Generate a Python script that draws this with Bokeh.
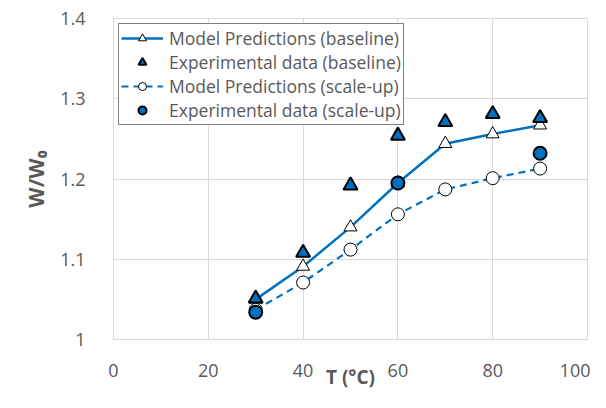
from bokeh.plotting import figure
from bokeh.models import Range1d, Legend, LegendItem, FixedTicker
from bokeh.embed import file_html
from bokeh.resources import INLINE

# data
temps = [30, 40, 50, 60, 70, 80, 90]
model_baseline = [1.050, 1.091, 1.140, 1.195, 1.244, 1.256, 1.267]
exp_baseline = [1.051, 1.108, 1.192, 1.254, 1.271, 1.281, 1.276]
model_scaleup = [1.037, 1.071, 1.112, 1.156, 1.187, 1.201, 1.213]
exp_scaleup_t = [30, 60, 90]
exp_scaleup = [1.034, 1.195, 1.232]
x_ticks = [0, 20, 40, 60, 80, 100]
y_ticks = [1.0, 1.1, 1.2, 1.3, 1.4]
y_tick_labels = {1.0: "1", 1.1: "1.1", 1.2: "1.2", 1.3: "1.3", 1.4: "1.4"}
x_title = "T (°C)"
y_title = "W/W\u2080"

BLUE = "#0070C0"
GRAY = "#595959"
GRID = "#d9d9d9"
FONT = "Open Sans"

p = figure(width=590, height=392, output_backend="svg", toolbar_location=None,
           x_range=Range1d(0, 100), y_range=Range1d(1.0, 1.4),
           min_border_left=113, min_border_right=3, min_border_top=18,
           min_border_bottom=53)
p.outline_line_color = GRID
p.background_fill_color = "white"
p.border_fill_color = "white"

for ax in (p.xaxis[0], p.yaxis[0]):
    ax.axis_line_color = GRID
    ax.major_tick_line_color = None
    ax.minor_tick_line_color = None
    ax.major_label_text_color = GRAY
    ax.major_label_text_font = FONT
    ax.major_label_text_font_size = "18px"
    ax.axis_label_text_color = GRAY
    ax.axis_label_text_font = FONT
    ax.axis_label_text_font_style = "bold"
p.xaxis[0].axis_label_text_font_size = "19px"
p.yaxis[0].axis_label_text_font_size = "21px"
p.xaxis[0].ticker = FixedTicker(ticks=x_ticks)
p.yaxis[0].ticker = FixedTicker(ticks=y_ticks)
p.yaxis[0].major_label_overrides = y_tick_labels
p.xaxis[0].major_label_standoff = 18
p.yaxis[0].major_label_standoff = 22
p.xaxis[0].axis_label = x_title
p.yaxis[0].axis_label = y_title
p.xaxis[0].axis_label_standoff = -16
p.yaxis[0].axis_label_standoff = 7
p.xgrid.grid_line_color = GRID
p.ygrid.grid_line_color = GRID
p.xgrid.ticker = FixedTicker(ticks=x_ticks)
p.ygrid.ticker = FixedTicker(ticks=y_ticks)

l1 = p.line(temps, model_baseline, line_color=BLUE, line_width=2.5)
l2 = p.line(temps, model_scaleup, line_color=BLUE, line_width=2.2, line_dash="7 5")
m1 = p.scatter(temps, model_baseline, marker="triangle", size=13, fill_color="white",
               line_color="black", line_width=1)
m3 = p.scatter(temps, model_scaleup, marker="circle", size=13, fill_color="white",
               line_color="black", line_width=1)
m2 = p.scatter(temps, exp_baseline, marker="triangle", size=14, fill_color=BLUE,
               line_color="black", line_width=2)
m4 = p.scatter(exp_scaleup_t, exp_scaleup, marker="circle", size=13, fill_color=BLUE,
               line_color="black", line_width=2)

legend = Legend(items=[
    LegendItem(label="Model Predictions (baseline)", renderers=[l1, m1]),
    LegendItem(label="Experimental data (baseline)", renderers=[m2]),
    LegendItem(label="Model Predictions (scale-up)", renderers=[l2, m3]),
    LegendItem(label="Experimental data (scale-up)", renderers=[m4]),
], location="top_left")
legend.margin = 5
legend.padding = 2
legend.spacing = 0
legend.glyph_width = 42
legend.glyph_height = 20
legend.label_height = 24
legend.label_standoff = 6
legend.label_text_font = FONT
legend.label_text_font_size = "17.5px"
legend.label_text_color = GRAY
legend.border_line_color = "black"
legend.border_line_width = 1
legend.background_fill_alpha = 1
p.add_layout(legend)

open("out.html", "w").write(file_html(p, INLINE))
